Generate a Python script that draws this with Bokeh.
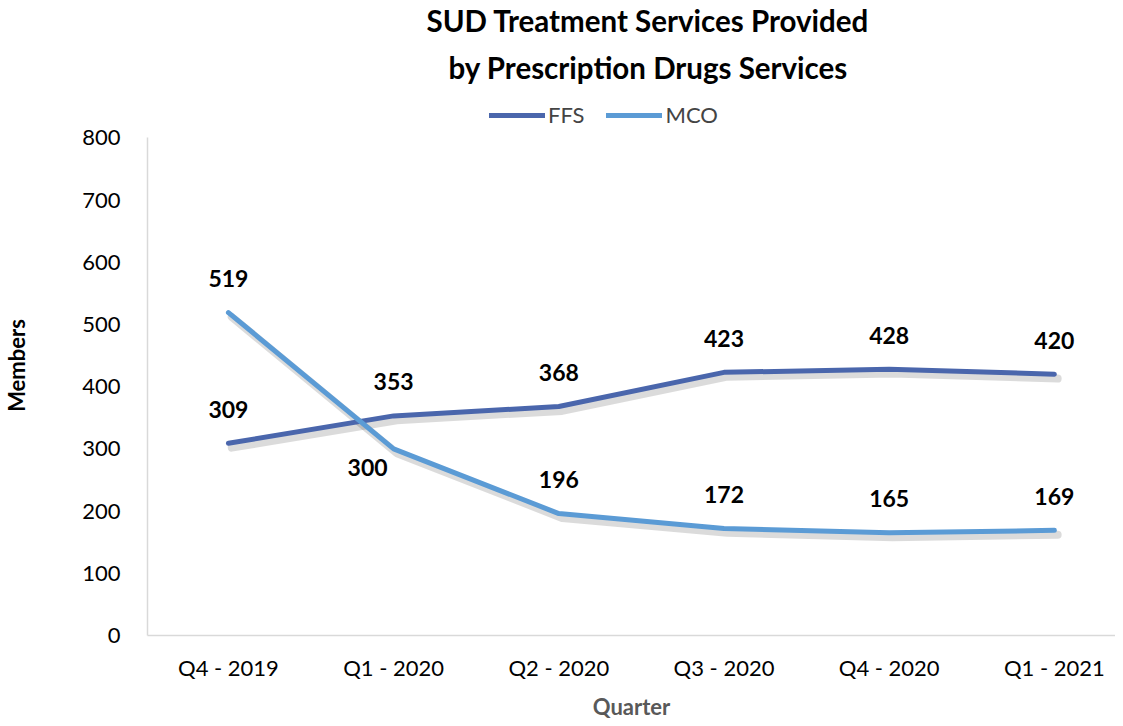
from bokeh.plotting import figure
from bokeh.models import ColumnDataSource, Legend, LegendItem, Title, Range1d, FixedTicker
from bokeh.core.properties import value
from bokeh.embed import file_html
from bokeh.resources import INLINE

quarters = ["Q4 - 2019", "Q1 - 2020", "Q2 - 2020", "Q3 - 2020", "Q4 - 2020", "Q1 - 2021"]
ffs = [309, 353, 368, 423, 428, 420]
mco = [519, 300, 196, 172, 165, 169]
y_ticks = [0, 100, 200, 300, 400, 500, 600, 700, 800]
mco_labels_below = [1]

FONT = "Lato"
FFS_COLOR = "#4A66AC"
MCO_COLOR = "#5B9BD5"
AXIS_COLOR = "#D9D9D9"

xs = list(range(len(quarters)))

p = figure(frame_width=968, frame_height=540, output_backend="svg", toolbar_location=None,
           x_range=Range1d(-0.49, 5.37), y_range=Range1d(0, 868),
           min_border_left=0, min_border_right=0, min_border_bottom=0, min_border_top=0)
p.outline_line_color = None
p.xgrid.grid_line_color = None
p.ygrid.grid_line_color = None

# shadows
sdx, sdy = 0.02, -7
for series in (ffs, mco):
    p.line([x + sdx for x in xs], [v + sdy for v in series], line_color="black", line_alpha=0.14,
           line_width=8, line_cap="round", line_join="round")

r_ffs = p.line(xs, ffs, line_color=FFS_COLOR, line_width=5, line_cap="round", line_join="round")
r_mco = p.line(xs, mco, line_color=MCO_COLOR, line_width=5, line_cap="round", line_join="round")

src_f = ColumnDataSource(dict(x=xs, y=ffs, t=[str(v) for v in ffs]))
p.text("x", "y", "t", source=src_f, y_offset=-34, text_align="center", text_baseline="middle",
       text_font=value(FONT), text_font_style="bold", text_font_size="23px", text_color="black")

mco_dy = [19 if i in mco_labels_below else -34 for i in xs]
mco_dx = [-26 if i in mco_labels_below else 0 for i in xs]
src_m = ColumnDataSource(dict(x=xs, y=mco, t=[str(v) for v in mco], dx=mco_dx, dy=mco_dy))
p.text("x", "y", "t", source=src_m, x_offset="dx", y_offset="dy", text_align="center", text_baseline="middle",
       text_font=value(FONT), text_font_style="bold", text_font_size="23px", text_color="black")

# axes
p.xaxis.ticker = FixedTicker(ticks=xs)
p.xaxis.major_label_overrides = {i: q for i, q in enumerate(quarters)}
p.yaxis.ticker = FixedTicker(ticks=y_ticks)
p.yaxis.bounds = (0, 800)
for ax in (p.xaxis, p.yaxis):
    ax.axis_line_color = AXIS_COLOR
    ax.axis_line_width = 1.5
    ax.major_tick_line_color = None
    ax.minor_tick_line_color = None
    ax.major_tick_out = 0
    ax.major_tick_in = 0
    ax.minor_tick_out = 0
    ax.minor_tick_in = 0
    ax.major_label_text_font = FONT
    ax.major_label_text_font_size = "22px"
    ax.major_label_text_color = "black"
    ax.axis_label_text_font = FONT
    ax.axis_label_text_font_style = "bold"
    ax.axis_label_text_font_size = "22px"
p.xaxis.major_label_standoff = 18
p.yaxis.major_label_standoff = 27
p.xaxis.axis_label = "Quarter"
p.xaxis.axis_label_text_color = "#595959"
p.xaxis.axis_label_standoff = 9
p.yaxis.axis_label = "Members"
p.yaxis.axis_label_text_color = "black"
p.yaxis.axis_label_standoff = 49

legend = Legend(items=[LegendItem(label="FFS", renderers=[r_ffs]), LegendItem(label="MCO", renderers=[r_mco])],
                orientation="horizontal", location=(342, 507), border_line_color=None,
                background_fill_alpha=0, label_text_font=FONT, label_text_font_size="22px",
                glyph_width=56, glyph_height=20, label_standoff=3, spacing=22, padding=0, margin=0)
p.add_layout(legend, "center")

t2 = Title(text="by Prescription Drugs Services", align="left", text_font=FONT, text_font_style="bold",
           text_font_size="29.5px", text_color="black", standoff=21, offset=301)
t1 = Title(text="SUD Treatment Services Provided", align="left", text_font=FONT, text_font_style="bold",
           text_font_size="29.5px", text_color="black", standoff=0, offset=279)
p.add_layout(t2, "above")
p.add_layout(t1, "above")

open("out.html", "w").write(file_html(p, INLINE))
